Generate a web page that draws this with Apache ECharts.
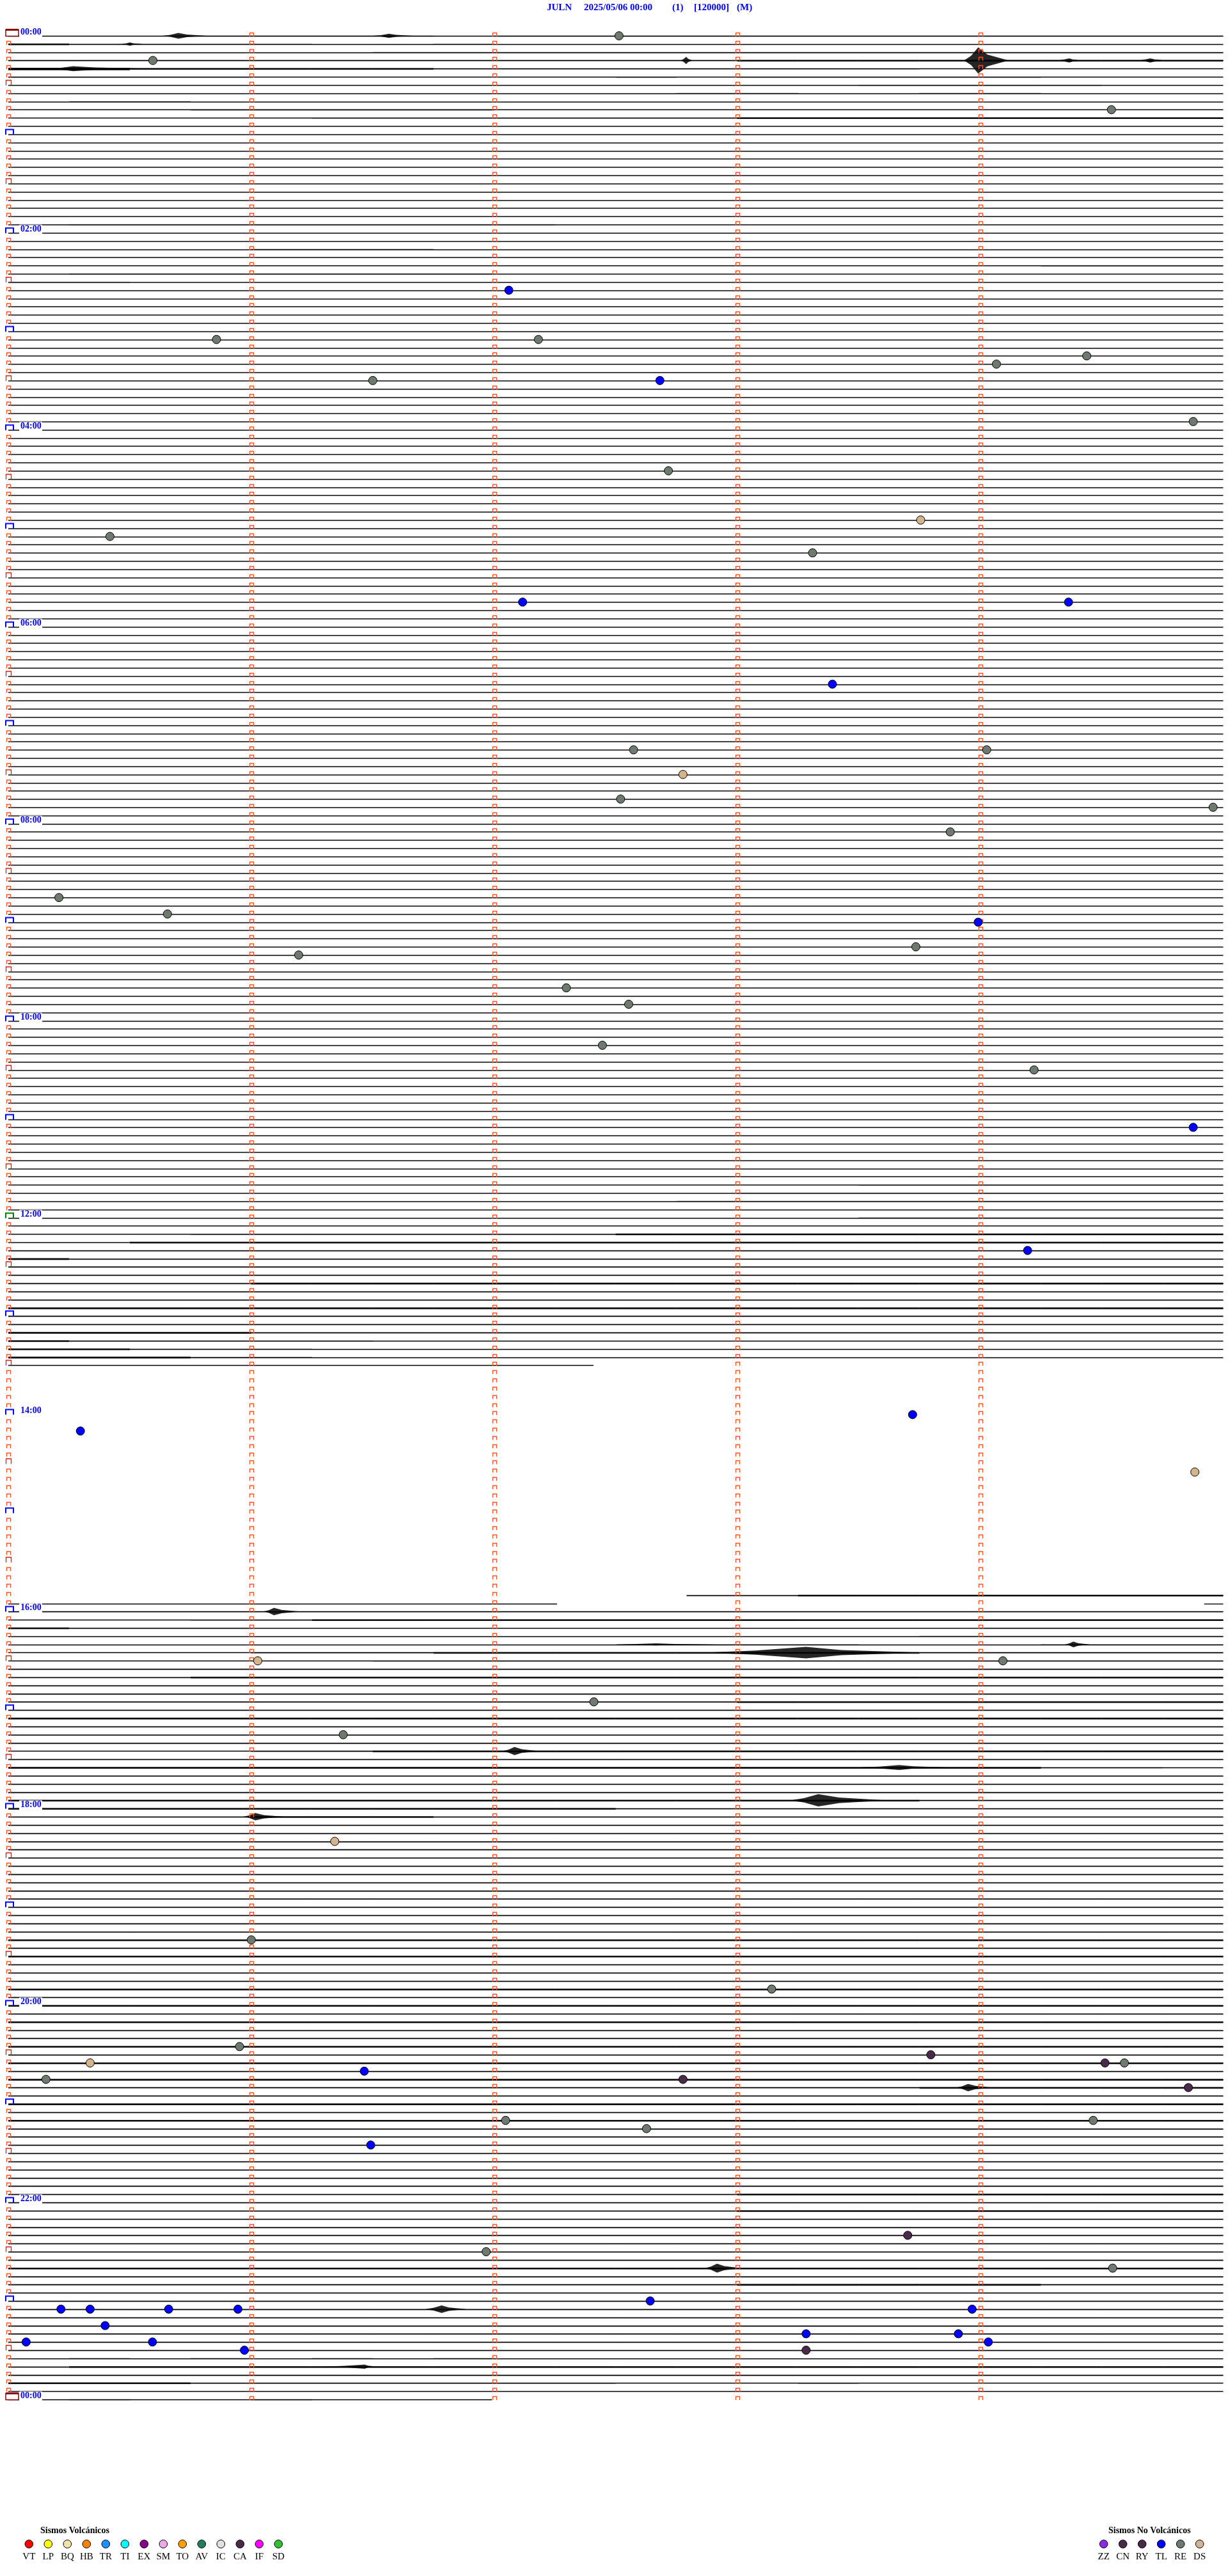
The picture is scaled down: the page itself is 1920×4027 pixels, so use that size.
<!DOCTYPE html>
<html><head><meta charset="utf-8">
<script src="https://cdn.jsdelivr.net/npm/echarts@6/dist/echarts.min.js"></script>
<style>html,body{margin:0;padding:0;background:#fff;}#chart{width:1920px;height:4027px;}</style>
</head><body><div id="chart"></div>
<script>
// ================= DATA =================
const titleParts = ['JULN', '2025/05/06 00:00', '(1)', '[120000]', '(M)'];
const secondsPerLine = 300;          // each trace line = 5 minutes
const lineCount = 288;               // 24 h x 12 lines, index 288 = closing 00:00
const minuteMarks = [0, 60, 120, 180, 240];
const hourLabels = ['00:00','02:00','04:00','06:00','08:00','10:00','12:00','14:00','16:00','18:00','20:00','22:00','00:00'];
// lines with partial data: [line, startSec, endSec]
const partialLines = [[162,0,144.5],[190,167.5,300],[191,0,135.5],[191,295.3,300],[288,0,119.4]];
const emptyLines = [163,164,165,166,167,168,169,170,171,172,173,174,175,176,177,178,179,180,181,182,183,184,185,186,187,188,189];
// background noise level per 15 s segment (20 per line): 0 clean .. 3 dense
const noiseRows = [
  [0,  '00011110111111111111'], [1,  '21111001000000000000'], [2,  '00000011111111111111'],
  [3,  '11111111111122222222'], [4,  '33222221111111100000'], [5,  '11110000001011111000'],
  [6,  '00000000000000111100'], [7,  '00000000000110011000'], [8,  '01100000000000000000'],
  [9,  '00011111000000000000'], [10, '00000111111122222222'],
  [23, '01111111100000000000'], [26, '00001110000000000000'], [28, '00000000000000000111'],
  [29, '01111111000000000000'], [30, '11000000000000000000'],
  [140,'00000000000000111111'], [141,'00000000000011111111'], [142,'00000000000111111111'],
  [144,'00000000000000111111'], [145,'00000000000000000000'], [146,'00011111112222222222'],
  [147,'00222222222222222222'], [148,'11111111111111111111'], [149,'21111111111111111111'],
  [150,'11111111111111111111'], [151,'11111111111111111111'], [152,'11112222222222222222'],
  [153,'11111111111111111111'], [154,'11111111111111111111'], [155,'22222222222222222222'],
  [156,'11111111111111111111'], [157,'11111111111111111111'], [158,'22221111111111111111'],
  [159,'21111100000000000000'], [160,'22111000000000000000'], [161,'22211000000000000000'],
  [190,'00000000000112222222'], [191,'00000000000000000000'], [192,'11111111111111111111'],
  [193,'00011222222222222222'], [194,'21110000000000001111'], [195,'00000000000000011111'],
  [196,'00000000001111000111'], [197,'00001112222222211111'], [198,'00000011111111111111'],
  [199,'11111111111111111111'], [200,'11122222222222222222'], [201,'11111111111111111111'],
  [202,'11111111111111111111'], [203,'11111111111122222222'], [204,'11111111111111111111'],
  [205,'22222222222222222222'], [206,'11111111111111111111'], [207,'11111111111111111111'],
  [208,'11111111111111111111'], [209,'00001122222222222222'], [210,'11111111111111111111'],
  [211,'22222222222222222110'], [212,'11111111111111111111'], [213,'11111111111111111111'],
  [214,'11111111111111111111'], [215,'22222222222222211111'], [216,'22222222221111111111'],
  [217,'11112221111111111111'], [218,'11111111111111111111'], [219,'11111111111111111111'],
  [220,'11111111111111111111'], [221,'11111111111111111111'], [222,'11111111111111111111'],
  [223,'11111111111111111111'], [224,'11111111111111111111'], [225,'11111111111111111111'],
  [226,'11111111111111111111'], [227,'11111111111111111111'], [228,'11111111111111111111'],
  [229,'11111111111111111111'], [230,'11111111111111111111'], [231,'11111111111111111111'],
  [232,'22222222222222222222'], [233,'11111111111111111111'], [234,'22222222222222222222'],
  [235,'11111111111111111111'], [236,'11111111111111111111'], [237,'11111111111111111111'],
  [238,'22222222222222222222'], [239,'11111111111111111111'], [240,'22222222222222222222'],
  [241,'11111111111111111111'], [242,'22222222222222222222'], [243,'11111111111111111111'],
  [244,'11111111111111111111'], [245,'22222222222222222222'], [246,'11111111111111111111'],
  [247,'22222222222222222222'], [248,'11111111111111111111'], [249,'22222222222222222222'],
  [250,'11111111111111122222'], [251,'11111111111111111111'], [252,'22222222222222222222'],
  [253,'11111111111111111111'], [254,'22222222222222222222'], [255,'11111111111111111111'],
  [256,'11111111111111111111'], [257,'11111111111111111111'], [258,'11111111111111111111'],
  [259,'11111111111111111111'], [260,'11111111111111111111'], [261,'11111111111111111111'],
  [262,'11111111111111111111'], [263,'11111111111122222222'], [264,'11111111111111111111'],
  [265,'11111111111122222222'], [266,'11111111111111111111'], [267,'11111111111111111111'],
  [268,'11111111111111111111'], [269,'11111111111111111111'], [270,'11111111111111111111'],
  [271,'11111111111111111111'], [272,'22222222222222222222'], [273,'11111111111111111111'],
  [274,'11111111111122222111'], [275,'11111111111111111111'], [276,'11111111111111111111'],
  [277,'11111111111111111111'], [278,'11111111111111111111'], [279,'11111111111111111111'],
  [280,'11111111111111111111'], [281,'11111111111111111111'], [282,'11111111111111111111'],
  [283,'01010101000000000000'], [284,'12222222222222222222'], [285,'11111111111111111111'],
  [286,'22211111110001000000'], [288,'01001000000000000000']
];
// bursts: [line, startSec, peakSec, endSec, amplitude (line units)]
const bursts = [
  [0, 38, 42, 49, 0.35], [0, 90, 94, 100, 0.25], [1, 28, 30, 33, 0.2],
  [3, 166, 167.4, 169, 0.45], [3, 236, 239.5, 247, 1.6], [3, 259, 262, 265, 0.25], [3, 279, 282, 286, 0.25],
  [4, 10, 16, 34, 0.3], [192, 63, 65.6, 72, 0.45], [196, 150, 160, 175, 0.12], [196, 261, 263, 267, 0.35],
  [197, 172, 197, 226, 0.7], [209, 122, 125, 131, 0.5], [211, 210, 220, 232, 0.3],
  [215, 193, 200, 217, 0.75], [217, 58, 61, 68, 0.45], [250, 234, 237, 243, 0.45],
  [272, 172, 175, 181, 0.55], [277, 103, 107, 113, 0.45], [284, 78, 88, 91, 0.25]
];
// events: [line, second, type]
const events = [
  [0,150.8,'RE'],[3,35.7,'RE'],[9,272.4,'RE'],[31,123.6,'TL'],[37,51.4,'RE'],[37,130.9,'RE'],
  [39,266.3,'RE'],[40,244,'RE'],[42,90,'RE'],[42,160.9,'TL'],[47,292.6,'RE'],[53,163,'RE'],
  [59,225.3,'DS'],[61,25.1,'RE'],[63,198.6,'RE'],[69,127,'TL'],[69,261.8,'TL'],[79,203.5,'TL'],
  [87,154.4,'RE'],[87,241.6,'RE'],[90,166.6,'DS'],[93,151.2,'RE'],[94,297.5,'RE'],[97,232.6,'RE'],
  [105,12.5,'RE'],[107,39.3,'RE'],[108,239.5,'TL'],[111,224.1,'RE'],[112,71.7,'RE'],[116,137.8,'RE'],
  [118,153.2,'RE'],[123,146.7,'RE'],[126,253.3,'RE'],[133,292.6,'TL'],[148,251.7,'TL'],[168,223.3,'TL'],
  [170,17.8,'TL'],[175,293,'DS'],[198,61.6,'DS'],[198,245.6,'RE'],[203,144.6,'RE'],[207,82.7,'RE'],
  [220,80.6,'DS'],[232,60,'RE'],[238,188.5,'RE'],[245,57.1,'RE'],[246,227.8,'CN'],[247,20.2,'DS'],
  [247,270.8,'CN'],[247,275.6,'RE'],[248,87.9,'TL'],[249,9.3,'RE'],[249,166.6,'CN'],[250,291.4,'CN'],
  [254,267.9,'RE'],[254,122.8,'RE'],[255,157.6,'RE'],[257,89.5,'TL'],[268,222.1,'CN'],[270,118,'RE'],
  [272,272.7,'RE'],[276,158.5,'TL'],[277,13,'TL'],[277,20.2,'TL'],[277,39.6,'TL'],[277,56.7,'TL'],
  [277,238,'TL'],[279,23.9,'TL'],[280,197,'TL'],[280,234.6,'TL'],[281,4.4,'TL'],[281,35.6,'TL'],
  [281,242,'TL'],[282,58.3,'TL'],[282,197,'CN']
];
const volcanicTypes  = ['VT','LP','BQ','HB','TR','TI','EX','SM','TO','AV','IC','CA','IF','SD'];
const volcanicColors = ['#ff0000','#ffff00','#f0e2a8','#ff8000','#1e90ff','#00ffff','#880088','#f0a8e8','#ffa000','#1e8060','#e0e0e0','#4a2a48','#ff00ff','#30c030'];
const tectonicTypes  = ['ZZ','CN','RY','TL','RE','DS'];
const tectonicColors = ['#8a2be2','#4a2a48','#4a2a48','#0000ff','#6e7a70','#d4b48c'];

// ================= BUILD =================
const typeColor = {};
volcanicTypes.forEach((t,i)=>typeColor[t]=volcanicColors[i]);
tectonicTypes.forEach((t,i)=>typeColor[t]=tectonicColors[i]);

const emptySet = new Set(emptyLines);
const partialMap = {};
partialLines.forEach(p => { (partialMap[p[0]] = partialMap[p[0]] || []).push([p[1], p[2]]); });
function extents(k) {
  if (emptySet.has(k)) return [];
  if (partialMap[k]) return partialMap[k];
  return [[0, secondsPerLine]];
}
const baseData = [];
for (let k = 0; k <= lineCount; k++) extents(k).forEach(e => baseData.push([k, e[0], e[1]]));

const noiseData = [];
noiseRows.forEach(([k, s]) => {
  const ex = extents(k);
  for (let i = 0; i < s.length; i++) {
    const lv = +s[i]; if (!lv) continue;
    let a = i * 15, b = a + 15;
    ex.forEach(e => { const aa = Math.max(a, e[0]), bb = Math.min(b, e[1]); if (bb > aa) noiseData.push([k, aa, bb, lv]); });
  }
});

const markerData = [];
for (let k = 0; k <= lineCount; k++) minuteMarks.forEach((m, c) => markerData.push([k, m, c]));

const hourData = [];
for (let k = 0; k <= lineCount; k += 12) hourData.push([k, 0]);

const eventData = events.map(e => ({ value: [e[1], e[0]], itemStyle: { color: typeColor[e[2]] } }));

const noiseH = [0, 0.06, 0.1, 0.15];
const noiseOp = [0, 0.5, 0.85, 1];

const graphics = [];
const titleX = [855, 913, 1051, 1085, 1152];
titleParts.forEach((t, i) => graphics.push({ type: 'text', left: titleX[i], top: 5,
  style: { text: t, fill: '#0000ff', font: 'bold 15px "Liberation Serif"' } }));
function legendBlock(title, titleX, x0, types, colors) {
  graphics.push({ type: 'text', left: titleX, top: 3949, style: { text: title, fill: '#000', font: 'bold 14px "Liberation Serif"' } });
  types.forEach((t, i) => {
    const cx = x0 + 30 * i;
    graphics.push({ type: 'circle', shape: { cx: cx, cy: 3977, r: 6.3 }, style: { fill: colors[i], stroke: '#000', lineWidth: 1 } });
    graphics.push({ type: 'text', x: cx, y: 3997, style: { text: t, fill: '#000', font: '15px "Liberation Serif"', textAlign: 'center', textVerticalAlign: 'middle' } });
  });
}
legendBlock('Sismos Volcánicos', 63, 45.3, volcanicTypes, volcanicColors);
legendBlock('Sismos No Volcánicos', 1733, 1725.7, tectonicTypes, tectonicColors);

const chart = echarts.init(document.getElementById('chart'), null, { renderer: 'canvas', width: 1920, height: 4027 });
chart.setOption({
  animation: false,
  backgroundColor: '#fff',
  grid: { left: 13, right: 7.5, top: 56, bottom: 276, containLabel: false },
  xAxis: { type: 'value', min: 0, max: secondsPerLine, show: false },
  yAxis: { type: 'value', min: 0, max: lineCount, inverse: true, show: false },
  graphic: graphics,
  series: [
    { type: 'custom', coordinateSystem: 'cartesian2d', data: baseData, z: 2, silent: true,
      encode: { x: [1, 2], y: 0 },
      renderItem: (p, api) => {
        const a = api.coord([api.value(1), api.value(0)]), b = api.coord([api.value(2), api.value(0)]);
        const y = Math.round(a[1]) + 0.5;
        return { type: 'line', shape: { x1: a[0], y1: y, x2: b[0], y2: y }, style: { stroke: '#000', lineWidth: 1.4 } };
      } },
    { type: 'custom', coordinateSystem: 'cartesian2d', data: noiseData, z: 3, silent: true,
      encode: { x: [1, 2], y: 0 },
      renderItem: (p, api) => {
        const k = api.value(0), lv = api.value(3);
        const a = api.coord([api.value(1), k - noiseH[lv]]), b = api.coord([api.value(2), k + noiseH[lv]]);
        return { type: 'rect', shape: { x: a[0], y: a[1] + 0.5, width: b[0] - a[0], height: b[1] - a[1] }, style: { fill: '#000', opacity: noiseOp[lv] } };
      } },
    { type: 'custom', coordinateSystem: 'cartesian2d', data: bursts, z: 4, silent: true,
      encode: { x: [1, 3], y: 0 },
      renderItem: (p, api) => {
        const k = api.value(0), s0 = api.value(1), pk = api.value(2), s1 = api.value(3), A = api.value(4);
        const d = s1 - pk, u = pk - s0;
        const pts = [[s0, k], [s0 + u * 0.5, k - A * 0.35], [pk, k - A], [pk + d * 0.3, k - A * 0.45], [s1, k],
                     [pk + d * 0.3, k + A * 0.45], [pk, k + A], [s0 + u * 0.5, k + A * 0.35]].map(q => api.coord(q));
        return { type: 'polygon', shape: { points: pts }, style: { fill: '#000', opacity: 0.85 } };
      } },
    { type: 'custom', coordinateSystem: 'cartesian2d', data: markerData, z: 5, silent: true,
      encode: { x: 1, y: 0 },
      renderItem: (p, api) => {
        const k = api.value(0), c = api.value(2);
        const q = api.coord([api.value(1), k]);
        const x = Math.round(q[0]) + 0.5, y = Math.round(q[1]) + 0.5;
        if (c === 0 && k % 12 === 0) return null;
        if (c === 0 && k % 6 === 0) {
          return { type: 'polyline', shape: { points: [[x - 4, y], [x - 4, y - 8], [x + 4, y - 8], [x + 4, y]] }, style: { stroke: '#ee1111', lineWidth: 1.3, fill: null } };
        }
        return { type: 'polyline', shape: { points: [[x - 3, y + 0.5], [x - 3, y - 5], [x + 3, y - 5], [x + 3, y + 0.5]] }, style: { stroke: '#ff5020', lineWidth: 1.3, fill: null } };
      } },
    { type: 'custom', coordinateSystem: 'cartesian2d', data: hourData, z: 6, silent: true,
      encode: { x: 1, y: 0 },
      renderItem: (p, api) => {
        const k = api.value(0);
        const label = k % 24 === 0 ? hourLabels[k / 24] : '';
        const q = api.coord([0, k]);
        const x = Math.round(q[0]), y = Math.round(q[1]) + 0.5;
        const children = [];
        const isMid = (k === 0 || k === lineCount);
        const col = isMid ? '#8b0000' : (k === 144 ? '#008000' : '#0000ff');
        if (label) children.push({ type: 'rect', shape: { x: x + 17, y: y - 13, width: 36, height: 16 }, style: { fill: '#fff' } });
        if (isMid) {
          children.push({ type: 'rect', shape: { x: x - 4, y: y - 10, width: 20, height: 10 }, style: { fill: '#fff', stroke: col, lineWidth: 1.5 } });
          children.push({ type: 'line', shape: { x1: x - 4, y1: y - 10, x2: x + 16, y2: y - 10 }, style: { stroke: col, lineWidth: 3 } });
        } else {
          children.push({ type: 'polyline', shape: { points: [[x - 4, y], [x - 4, y - 8], [x + 8, y - 8], [x + 8, y]] }, style: { stroke: col, lineWidth: 2, fill: null } });
        }
        if (label) children.push({ type: 'text', x: x + 19, y: y + 1, style: { text: label, fill: '#0000ff', font: 'bold 14px "Liberation Serif"', textVerticalAlign: 'bottom' } });
        return { type: 'group', children: children };
      } },
    { type: 'scatter', data: eventData, z: 7, symbol: 'circle', symbolSize: 13, silent: true,
      itemStyle: { borderColor: '#000', borderWidth: 1, opacity: 1 } }
  ]
});
</script>
</body></html>
